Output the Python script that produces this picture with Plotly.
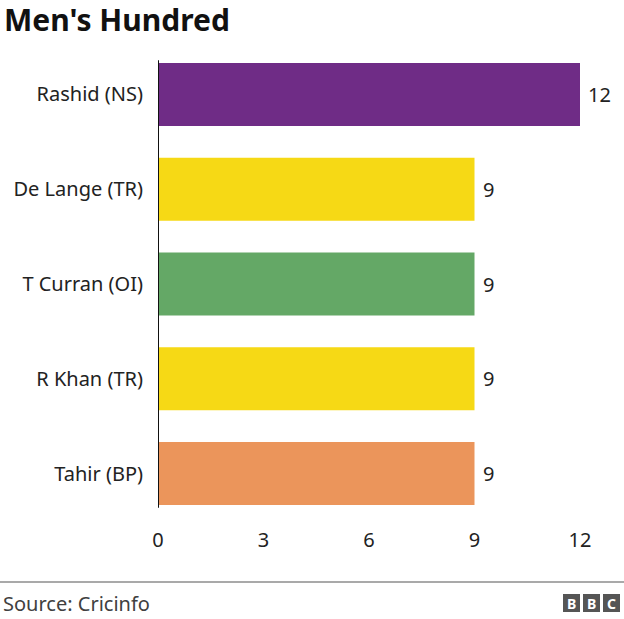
import plotly.graph_objects as go

players = ["Rashid (NS)", "De Lange (TR)", "T Curran (OI)", "R Khan (TR)", "Tahir (BP)"]
wickets = [12, 9, 9, 9, 9]
colors = ["#6f2c86", "#f6d915", "#64a866", "#f6d915", "#eb955b"]
tick_vals = [0, 3, 6, 9, 12]

FONT = "Noto Sans"
W, H = 624, 619
ML, MR, MT, MB = 158, 44, 47, 98
PW, PH = W - ML - MR, H - MT - MB

def px_x(px):
    return (px - ML) / PW

def px_y(py):
    return (H - MB - py) / PH

fig = go.Figure(go.Bar(
    x=wickets, y=players, orientation="h",
    marker=dict(color=colors, line=dict(width=0)),
    hoverinfo="skip",
))

for v, p in zip(wickets, players):
    fig.add_annotation(x=v, y=p, xref="x", yref="y", text=str(v), showarrow=False,
                       xanchor="left", yanchor="middle", xshift=6,
                       font=dict(size=20, color="#222222", family=FONT))

fig.update_layout(
    width=W, height=H,
    margin=dict(l=ML, r=MR, t=MT, b=MB),
    paper_bgcolor="white", plot_bgcolor="white",
    bargap=0.335,
    showlegend=False,
    font=dict(family=FONT, size=20, color="#222222"),
    xaxis=dict(range=[0, 12], tickvals=tick_vals, showgrid=False, zeroline=False,
               showline=False, ticks="outside", ticklen=1, tickcolor="rgba(0,0,0,0)",
               tickfont=dict(size=20, color="#222222"), fixedrange=True),
    yaxis=dict(autorange="reversed", showgrid=False, zeroline=False, showline=False,
               ticks="outside", ticklen=10, tickcolor="rgba(0,0,0,0)",
               tickfont=dict(size=20, color="#222222"), fixedrange=True),
)

# vertical baseline at zero
fig.add_shape(type="line", xref="x", yref="y", x0=0, x1=0, y0=-0.36, y1=4.36,
              line=dict(color="#111111", width=2))

# title
fig.add_annotation(text="<b>Men's Hundred</b>", xref="paper", yref="paper",
                   x=px_x(2), y=px_y(19), xanchor="left", yanchor="middle",
                   showarrow=False,
                   font=dict(size=30, color="#111111", family=FONT))

# footer line
fig.add_shape(type="line", xref="paper", yref="paper", x0=px_x(0), x1=px_x(W),
              y0=px_y(582), y1=px_y(582), line=dict(color="#8c8c8c", width=1.5))

# source
fig.add_annotation(text="Source: Cricinfo", xref="paper", yref="paper",
                   x=px_x(1), y=px_y(603), xanchor="left", yanchor="middle",
                   showarrow=False, font=dict(size=20, color="#404040", family=FONT))

# BBC logo
for i, letter in enumerate("BBC"):
    x0 = 563 + i * 20
    fig.add_shape(type="rect", xref="paper", yref="paper",
                  x0=px_x(x0), x1=px_x(x0 + 17), y0=px_y(612), y1=px_y(594),
                  fillcolor="#555555", line=dict(width=0))
    fig.add_annotation(text=f"<b>{letter}</b>", xref="paper", yref="paper",
                       x=px_x(x0 + 8.5), y=px_y(603.5), xanchor="center", yanchor="middle",
                       showarrow=False, font=dict(size=14, color="white", family=FONT))

fig.write_html("out.html", config={"displayModeBar": False},
               post_script="document.body.style.margin='0';")
